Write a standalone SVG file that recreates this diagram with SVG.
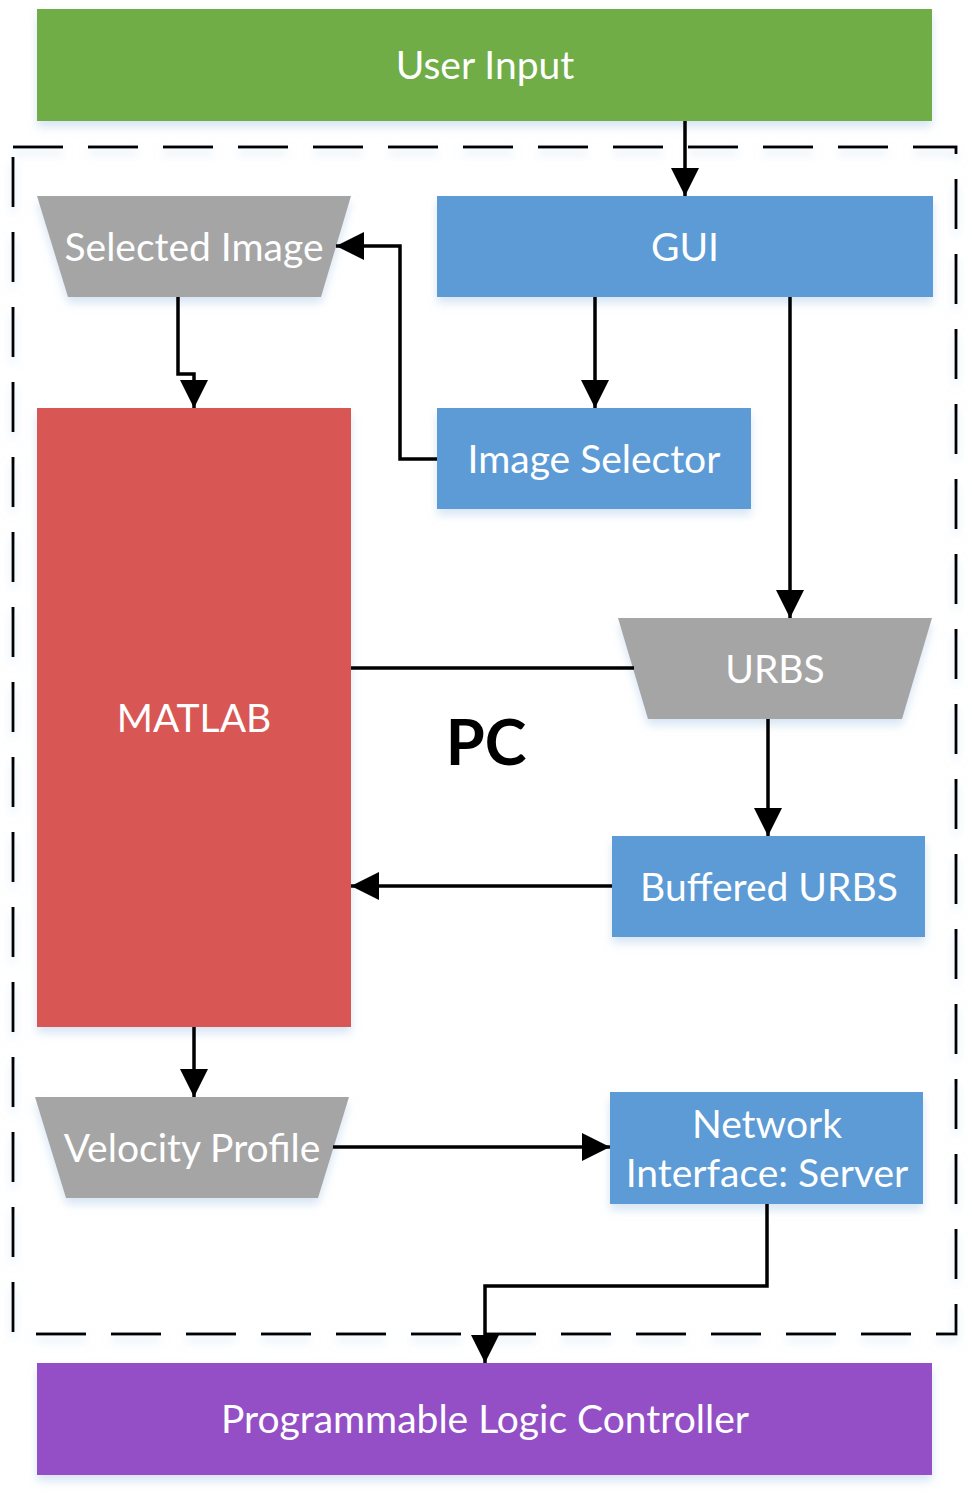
<svg xmlns="http://www.w3.org/2000/svg" width="972" height="1500" viewBox="0 0 972 1500">
<style>
.lbl{font-family:Lato,"Open Sans","Noto Sans",sans-serif;font-size:39px;fill:#ffffff;text-anchor:middle;dominant-baseline:central}
.con{fill:none;stroke:#000;stroke-width:3.5}
.blue{fill:#5b9bd5}
.gray{fill:#a5a5a5}
</style>
<defs>
<filter id="sh" x="-10%" y="-10%" width="120%" height="140%">
<feDropShadow dx="0" dy="6" stdDeviation="5" flood-color="#bcd3ec" flood-opacity="0.6"/>
</filter>
<marker id="arr" viewBox="0 0 10 10" refX="10" refY="5" markerWidth="8" markerHeight="8" markerUnits="strokeWidth" orient="auto">
<path d="M0,0 L10,5 L0,10 Z" fill="#000"/>
</marker>
</defs>

<g id="pc-boundary">
<rect x="13" y="147" width="943" height="1187" fill="none" stroke="#000" stroke-width="3" stroke-dasharray="50,25" filter="url(#sh)"/>
<text x="486" y="740" font-family="Lato,'Open Sans',sans-serif" font-size="63" font-weight="bold" text-anchor="middle" dominant-baseline="central" fill="#000">PC</text>
</g>

<g id="user-input">
<rect x="37" y="9" width="895" height="112" fill="#70ad47" filter="url(#sh)"/>
<text class="lbl" x="485" y="64">User Input</text>
</g>

<g id="selected-image">
<polygon class="gray" points="37,196 351,196 321,297 68,297" filter="url(#sh)"/>
<text class="lbl" x="194" y="246">Selected Image</text>
</g>

<g id="gui">
<rect class="blue" x="437" y="196" width="496" height="101" filter="url(#sh)"/>
<text class="lbl" x="685" y="246">GUI</text>
</g>

<g id="image-selector">
<rect class="blue" x="437" y="408" width="314" height="101" filter="url(#sh)"/>
<text class="lbl" x="594" y="458">Image Selector</text>
</g>

<g id="matlab">
<rect x="37" y="408" width="314" height="619" fill="#d85652" filter="url(#sh)"/>
<text class="lbl" x="194" y="717">MATLAB</text>
</g>

<g id="urbs">
<polygon class="gray" points="618,618 932,618 902,719 648,719" filter="url(#sh)"/>
<text class="lbl" x="775" y="668">URBS</text>
</g>

<g id="buffered-urbs">
<rect class="blue" x="612" y="836" width="313" height="101" filter="url(#sh)"/>
<text class="lbl" x="769" y="886">Buffered URBS</text>
</g>

<g id="velocity-profile">
<polygon class="gray" points="35,1097 349,1097 318,1198 66,1198" filter="url(#sh)"/>
<text class="lbl" x="192" y="1147">Velocity Profile</text>
</g>

<g id="network-interface">
<rect class="blue" x="610" y="1092" width="313" height="112" filter="url(#sh)"/>
<text class="lbl" x="767" y="1123">Network</text>
<text class="lbl" x="767" y="1172">Interface: Server</text>
</g>

<g id="plc">
<rect x="37" y="1363" width="895" height="112" fill="#9450c6" filter="url(#sh)"/>
<text class="lbl" x="485" y="1418">Programmable Logic Controller</text>
</g>

<g id="connectors">
<path class="con" d="M685,121 V196" marker-end="url(#arr)"/>
<path class="con" d="M595,297 V408" marker-end="url(#arr)"/>
<path class="con" d="M790,297 V618" marker-end="url(#arr)"/>
<path class="con" d="M437,459 H400 V246 H336" marker-end="url(#arr)"/>
<path class="con" d="M178,297 V374 H194 V408" marker-end="url(#arr)"/>
<path class="con" d="M351,668 H634"/>
<path class="con" d="M768,719 V836" marker-end="url(#arr)"/>
<path class="con" d="M612,886 H351" marker-end="url(#arr)"/>
<path class="con" d="M194,1027 V1097" marker-end="url(#arr)"/>
<path class="con" d="M333,1147 H610" marker-end="url(#arr)"/>
<path class="con" d="M767,1204 V1286 H485 V1363" marker-end="url(#arr)"/>
</g>
</svg>
